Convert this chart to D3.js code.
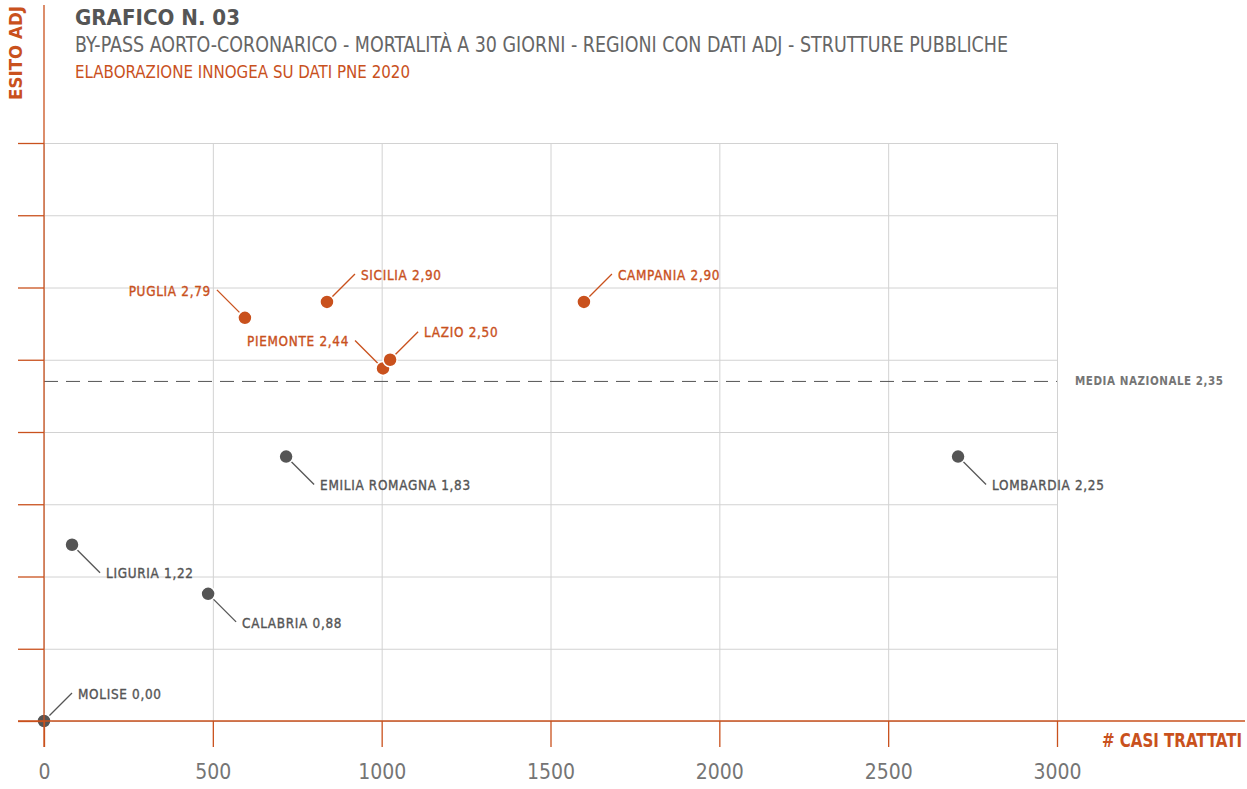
<!DOCTYPE html>
<html>
<head>
<meta charset="utf-8">
<script src="https://cdn.jsdelivr.net/npm/d3@7"></script>
<style>
  html, body { margin: 0; padding: 0; background: #fff; }
  svg { display: block; font-family: "Liberation Sans Narrow", "DejaVu Sans Condensed", sans-serif; }
</style>
</head>
<body>
<div class="content"></div>
<script>
const w = 1247;
const h = 789;

const orange = '#c9511d';
const grey = '#555555';
const lightGrey = '#757575';
const gridColor = '#d2d2d2';

// dati
const regioni = ['MOLISE', 'LIGURIA', 'CALABRIA', 'PUGLIA', 'EMILIA ROMAGNA', 'SICILIA', 'PIEMONTE', 'LAZIO', 'CAMPANIA', 'LOMBARDIA'];
const casiTrattati = [0, 83, 486, 595, 717, 838, 1004, 1025, 1599, 2707];
// posizione verticale come disegnata (Lombardia è disegnata a 1,83 nell'originale)
const esitoAdj = [0.00, 1.22, 0.88, 2.79, 1.83, 2.90, 2.44, 2.50, 2.90, 1.83];
const esitoEtichetta = ['0,00', '1,22', '0,88', '2,79', '1,83', '2,90', '2,44', '2,50', '2,90', '2,25'];
const mediaNazionale = 2.35;
const mediaEtichetta = 'MEDIA NAZIONALE 2,35';
const xTicks = [0, 500, 1000, 1500, 2000, 2500, 3000];
const yTicks = [0, 0.5, 1, 1.5, 2, 2.5, 3, 3.5, 4];

// direzione dell'etichetta: ur = su-destra, ul = su-sinistra, dr = giù-destra
const posEtichetta = {
	'MOLISE': 'ur', 'LIGURIA': 'dr', 'CALABRIA': 'dr', 'PUGLIA': 'ul', 'EMILIA ROMAGNA': 'dr',
	'SICILIA': 'ur', 'PIEMONTE': 'ul', 'LAZIO': 'ur', 'CAMPANIA': 'ur', 'LOMBARDIA': 'dr'
};

const dataset = regioni.map((r, i) => ({
	name: r,
	x: casiTrattati[i],
	y: esitoAdj[i],
	label: r + ' ' + esitoEtichetta[i],
	sopra: esitoAdj[i] > mediaNazionale
}));

const svg = d3.select('.content').append('svg')
	.attr('width', w)
	.attr('height', h);

const xScale = d3.scaleLinear().domain([0, 3000]).range([44, 1057]);
const yScale = d3.scaleLinear().domain([0, 4]).range([721, 143]);

// titoli
svg.append('text')
	.attr('x', 75).attr('y', 25)
	.attr('fill', grey)
	.style('font-size', '22px')
	.style('font-weight', 'bold')
	.attr('textLength', 165)
	.attr('lengthAdjust', 'spacingAndGlyphs')
	.text('GRAFICO N. 03');

svg.append('text')
	.attr('x', 75).attr('y', 52)
	.attr('fill', '#666')
	.style('font-size', '21px')
	.attr('textLength', 933)
	.attr('lengthAdjust', 'spacingAndGlyphs')
	.text('BY-PASS AORTO-CORONARICO - MORTALITÀ A 30 GIORNI - REGIONI CON DATI ADJ - STRUTTURE PUBBLICHE');

svg.append('text')
	.attr('x', 75).attr('y', 78)
	.attr('fill', orange)
	.style('font-size', '18px')
	.attr('textLength', 335)
	.attr('lengthAdjust', 'spacingAndGlyphs')
	.text('ELABORAZIONE INNOGEA SU DATI PNE 2020');

// griglia
svg.append('g')
	.attr('transform', 'translate(44,0)')
	.call(d3.axisLeft(yScale).tickValues(yTicks).tickSize(-(1057 - 44)).tickFormat(''))
	.call(g => g.select('.domain').remove())
	.call(g => g.selectAll('line').attr('stroke', gridColor));

svg.append('g')
	.attr('transform', 'translate(0,721)')
	.call(d3.axisBottom(xScale).tickValues(xTicks).tickSize(-(721 - 143)).tickFormat(''))
	.call(g => g.select('.domain').remove())
	.call(g => g.selectAll('line').attr('stroke', gridColor));

// media nazionale
svg.append('line')
	.attr('x1', xScale(0)).attr('x2', xScale(3000))
	.attr('y1', yScale(mediaNazionale)).attr('y2', yScale(mediaNazionale))
	.attr('stroke', grey)
	.attr('stroke-dasharray', '14,8');

svg.append('text')
	.attr('x', xScale(3000) + 18)
	.attr('y', yScale(mediaNazionale))
	.attr('dy', '0.35em')
	.attr('fill', lightGrey)
	.style('font-size', '11.5px')
	.style('font-weight', 'bold')
	.attr('textLength', 148)
	.attr('lengthAdjust', 'spacing')
	.text(mediaEtichetta);

// linee guida ed etichette
const off = 28;
const dxOf = (d) => posEtichetta[d.name] === 'ul' ? -off : off;
const dyOf = (d) => posEtichetta[d.name] === 'dr' ? off : -off;

svg.append('g')
	.selectAll('line')
	.data(dataset)
	.enter()
	.append('line')
	.attr('x1', (d) => xScale(d.x))
	.attr('y1', (d) => yScale(d.y))
	.attr('x2', (d) => xScale(d.x) + dxOf(d))
	.attr('y2', (d) => yScale(d.y) + dyOf(d))
	.attr('stroke', (d) => d.sopra ? orange : grey)
	.attr('stroke-width', 1.3);

svg.append('g')
	.selectAll('text')
	.data(dataset)
	.enter()
	.append('text')
	.attr('x', (d) => xScale(d.x) + dxOf(d) + (dxOf(d) > 0 ? 6 : -6))
	.attr('y', (d) => yScale(d.y) + dyOf(d) + 1)
	.attr('dy', '0.35em')
	.attr('text-anchor', (d) => dxOf(d) > 0 ? 'start' : 'end')
	.attr('fill', (d) => d.sopra ? orange : grey)
	.style('font-size', '13.4px')
	.style('letter-spacing', '0.7px')
	.style('stroke', (d) => d.sopra ? orange : grey)
	.style('stroke-width', 0.35)
	.text((d) => d.label);

// punti
svg.append('g')
	.selectAll('circle')
	.data(dataset)
	.enter()
	.append('circle')
	.attr('cx', (d) => xScale(d.x))
	.attr('cy', (d) => yScale(d.y))
	.attr('r', 7)
	.attr('fill', (d) => d.sopra ? orange : grey)
	.attr('stroke', '#fff')
	.attr('stroke-width', 1.5);

// assi
svg.append('g')
	.attr('transform', 'translate(44,0)')
	.call(d3.axisLeft(yScale).tickValues(yTicks).tickSize(26).tickFormat(''))
	.call(g => g.select('.domain').remove())
	.call(g => g.selectAll('line').attr('stroke', orange).attr('stroke-width', 1.3));

svg.append('line')
	.attr('x1', 44).attr('x2', 44)
	.attr('y1', 5).attr('y2', 747)
	.attr('stroke', orange)
	.attr('stroke-width', 1.3);

svg.append('g')
	.attr('transform', 'translate(0,721)')
	.call(d3.axisBottom(xScale).tickValues(xTicks).tickSize(26).tickPadding(17).tickFormat(d3.format('d')))
	.call(g => g.select('.domain').remove())
	.call(g => g.selectAll('line').attr('stroke', orange).attr('stroke-width', 1.3))
	.call(g => g.selectAll('text')
		.attr('fill', lightGrey)
		.style('font-size', '21px')
		.style('font-family', '"Liberation Sans Narrow", "DejaVu Sans Condensed", sans-serif'));

svg.append('line')
	.attr('x1', 18).attr('x2', 1245)
	.attr('y1', 721).attr('y2', 721)
	.attr('stroke', orange)
	.attr('stroke-width', 1.3);

svg.append('text')
	.attr('x', 1242).attr('y', 747)
	.attr('text-anchor', 'end')
	.attr('fill', orange)
	.style('font-size', '19px')
	.style('font-weight', 'bold')
	.attr('textLength', 140)
	.attr('lengthAdjust', 'spacingAndGlyphs')
	.text('# CASI TRATTATI');

svg.append('text')
	.attr('transform', 'translate(22,53) rotate(-90)')
	.attr('text-anchor', 'middle')
	.attr('fill', orange)
	.style('font-size', '18px')
	.style('font-weight', 'bold')
	.attr('textLength', 94)
	.attr('lengthAdjust', 'spacingAndGlyphs')
	.text('ESITO ADJ');
</script>
</body>
</html>
